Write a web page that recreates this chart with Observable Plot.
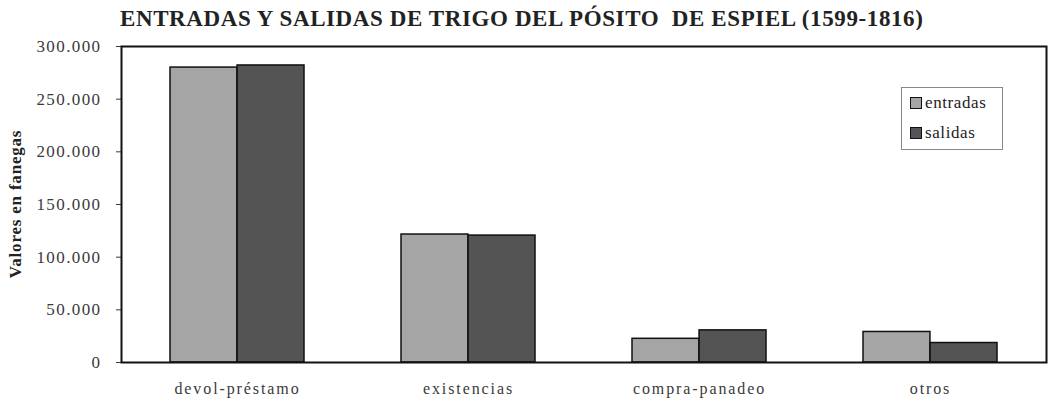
<!DOCTYPE html>
<html><head><meta charset="utf-8">
<script src="https://cdn.jsdelivr.net/npm/d3@7"></script>
<script src="https://cdn.jsdelivr.net/npm/@observablehq/plot@0.6"></script>
<style>
html,body{margin:0;padding:0;background:#fff;}
#wrap{position:relative;width:1051px;height:405px;overflow:hidden;font-family:"Times New Roman",Times,serif;}
#title{position:absolute;left:120px;top:6px;font-weight:bold;font-size:23px;color:#222;letter-spacing:0.6px;white-space:nowrap;}
#chart{position:absolute;left:0;top:30px;}
#legend{position:absolute;left:901px;top:87px;width:102px;height:63px;border:1px solid #888;box-sizing:border-box;background:#fff;font-size:17px;letter-spacing:0.6px;color:#222;}
#legend .it{position:absolute;left:8px;display:flex;align-items:center;gap:3px;}
#legend .sw{width:12px;height:12px;border:1.5px solid #111;box-sizing:border-box;}
#chart svg g[aria-label="x-axis tick label"] text{letter-spacing:1.9px;}
#chart svg g[aria-label="y-axis tick label"] text{letter-spacing:1.4px;}
</style></head>
<body>
<div id="wrap">
<div id="title">ENTRADAS Y SALIDAS DE TRIGO DEL PÓSITO&nbsp; DE ESPIEL (1599-1816)</div>
<div id="chart"></div>
<div id="legend"></div>
</div>
<script>
const categories = ["devol-préstamo", "existencias", "compra-panadeo", "otros"];
const entradas = [280000, 121500, 22500, 29000];
const salidas = [282000, 120500, 30500, 18500];
const seriesNames = ["entradas", "salidas"];
const seriesColors = ["#a5a5a5", "#545454"];
const yTicks = [0, 50000, 100000, 150000, 200000, 250000, 300000];

const rowsE = categories.map((c, i) => ({cat: c, value: entradas[i]}));
const rowsS = categories.map((c, i) => ({cat: c, value: salidas[i]}));

const W = 1051, H = 375, mL = 121, mR = 5, pad = 0.42;
const step = (W - mL - mR) / categories.length;
const half = step * (1 - pad) / 2;
const fmt = d => d3.format(",")(d).replace(/,/g, ".");

const chart = Plot.plot({
  width: W, height: H,
  marginLeft: mL, marginRight: mR, marginTop: 16, marginBottom: 43,
  style: {fontFamily: "'Times New Roman', Times, serif", fontSize: "16px", color: "#3a3a3a", background: "#fff"},
  x: {domain: categories, paddingInner: pad, paddingOuter: pad / 2, label: null, tickSize: 0, tickPadding: 20},
  y: {domain: [0, 300000], ticks: yTicks, tickFormat: fmt, label: null, tickSize: 5, tickPadding: 15},
  marks: [
    Plot.barY(rowsE, {x: "cat", y: "value", fill: seriesColors[0], stroke: "#111", strokeWidth: 1.5, insetRight: half}),
    Plot.barY(rowsS, {x: "cat", y: "value", fill: seriesColors[1], stroke: "#111", strokeWidth: 1.5, insetLeft: half}),
    Plot.frame({stroke: "#111", strokeWidth: 2})
  ]
});
const svg = d3.select(chart);
svg.selectAll('g[aria-label="y-axis tick label"] text').style("font-size", "17px");
svg.append("text")
  .attr("transform", `translate(17,${16 + (H - 16 - 43) / 2}) rotate(-90)`)
  .attr("text-anchor", "middle")
  .attr("dominant-baseline", "middle")
  .style("font-weight", "bold").style("font-size", "17px").style("letter-spacing", "0.8px").style("fill", "#222")
  .text("Valores en fanegas");
document.getElementById("chart").appendChild(chart);

const leg = document.getElementById("legend");
seriesNames.forEach((n, i) => {
  const it = document.createElement("div");
  it.className = "it";
  it.style.top = (i === 0 ? 5 : 35) + "px";
  it.innerHTML = `<span class="sw" style="background:${seriesColors[i]}"></span><span>${n}</span>`;
  leg.appendChild(it);
});
</script>
</body></html>
